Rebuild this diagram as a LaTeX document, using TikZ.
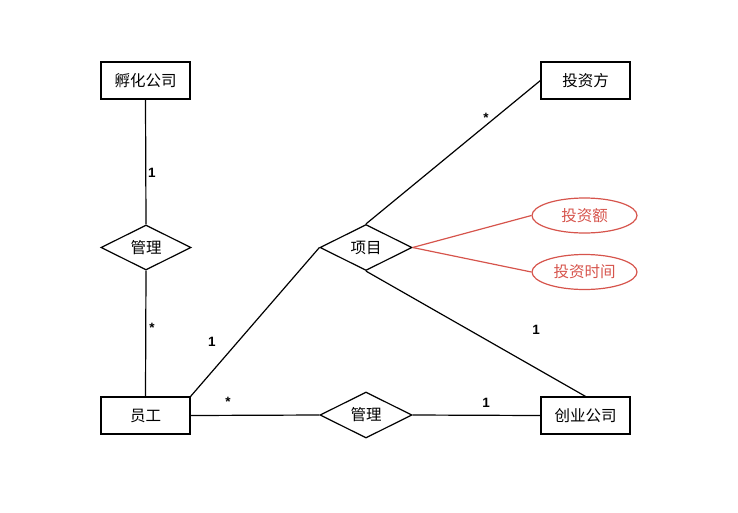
\documentclass[tikz,border=0pt]{standalone}
\usepackage{fontspec}
\setmainfont{Liberation Sans}
\newfontfamily\cjk{Noto Sans CJK SC}
\usetikzlibrary{shapes.geometric}
\definecolor{attrred}{RGB}{214,84,76}
\begin{document}
\begin{tikzpicture}[x=1pt,y=-1pt,
  ent/.style={draw,line width=1.2pt,minimum width=89pt,minimum height=37pt,inner sep=0pt,font=\cjk\fontsize{15.5}{17}\selectfont},
  rel/.style={draw,line width=1.2pt,diamond,aspect=2,minimum width=92pt,minimum height=46pt,inner sep=0pt,font=\cjk\fontsize{15.5}{17}\selectfont},
  attr/.style={draw=attrred,text=attrred,line width=1.2pt,ellipse,minimum width=105pt,minimum height=35pt,inner sep=0pt,font=\cjk\fontsize{15.5}{17}\selectfont},
  lnk/.style={line width=1.2pt},
  rlnk/.style={line width=1.2pt,draw=attrred},
  card/.style={font=\bfseries\fontsize{13.5}{15}\selectfont}]
\useasboundingbox (0,0) rectangle (738,512);
\node[ent] (fh) at (145.5,80.5) {孵化公司};
\node[ent] (tzf) at (585.5,80.5) {投资方};
\node[ent] (yg) at (145.5,415.5) {员工};
\node[ent] (cy) at (585.5,415.5) {创业公司};
\node[rel,minimum width=90pt,minimum height=45pt] (gl1) at (146,247.5) {管理};
\node[rel] (xm) at (366,247.5) {项目};
\node[rel] (gl2) at (366,415) {管理};
\node[attr] (tze) at (584.5,215.5) {投资额};
\node[attr] (tzsj) at (584.5,272) {投资时间};
\draw[lnk] (fh.south) -- (gl1.north);
\draw[lnk] (gl1.south) -- (yg.north);
\draw[lnk] (yg.north east) -- (xm.west);
\draw[lnk] (xm.north) -- (tzf.west);
\draw[lnk] (xm.south) -- (cy.north);
\draw[lnk] (yg.east) -- (gl2.west);
\draw[lnk] (gl2.east) -- (cy.west);
\draw[rlnk] (xm.east) -- (tze.west);
\draw[rlnk] (xm.east) -- (tzsj.west);
\node[card] (c1) at (152,173) {1};
\node[card] (c2) at (152,328) {*};
\node[card] (c3) at (212,342) {1};
\node[card] (c4) at (486,118) {*};
\node[card] (c5) at (536,330) {1};
\node[card] (c6) at (228,402) {*};
\node[card] (c7) at (486,403) {1};
\end{tikzpicture}
\end{document}
